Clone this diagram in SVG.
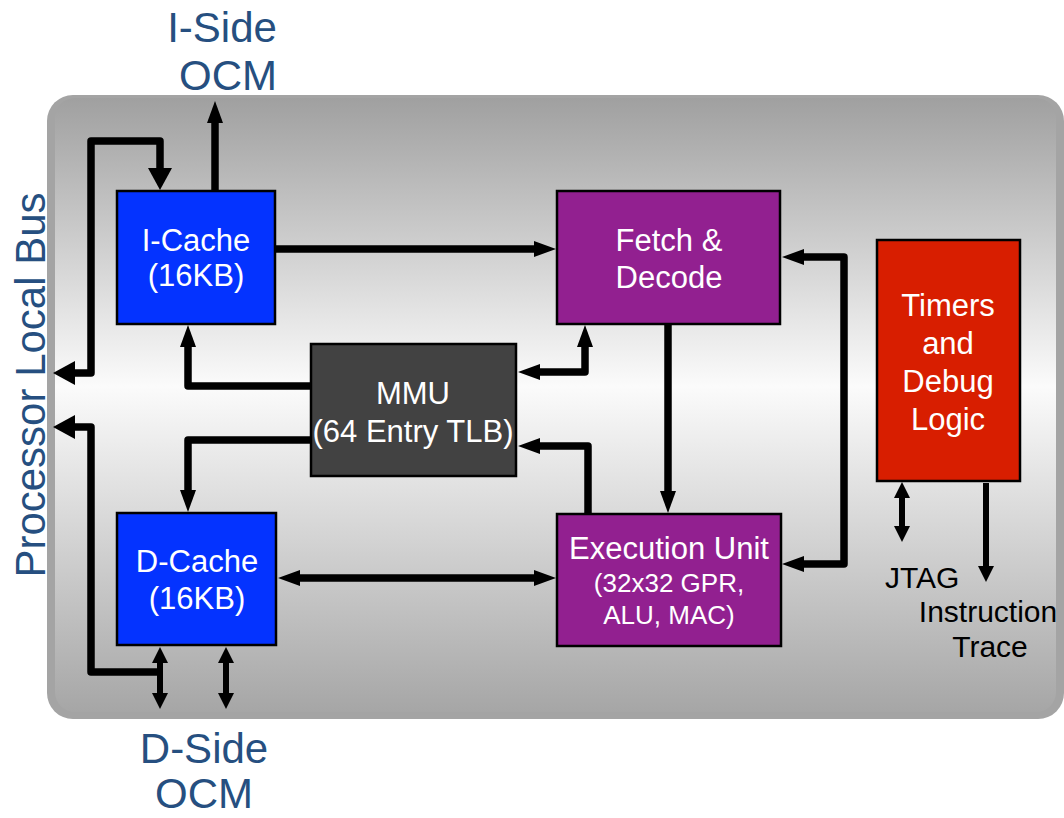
<svg xmlns="http://www.w3.org/2000/svg" width="1064" height="818" viewBox="0 0 1064 818">
<defs>
<linearGradient id="bg" x1="0" y1="0" x2="0" y2="1">
<stop offset="0" stop-color="#a0a0a0"/>
<stop offset="0.47" stop-color="#fbfbfb"/>
<stop offset="1" stop-color="#a6a6a6"/>
</linearGradient>
<marker id="ab" markerUnits="userSpaceOnUse" markerWidth="30" markerHeight="30" refX="1" refY="12" orient="auto-start-reverse" overflow="visible"><path d="M0,0 L22,12 L0,24 z" fill="#000"/></marker>
<marker id="am" markerUnits="userSpaceOnUse" markerWidth="30" markerHeight="30" refX="1" refY="8" orient="auto-start-reverse" overflow="visible"><path d="M0,0 L22,8 L0,16 z" fill="#000"/></marker>
<marker id="as" markerUnits="userSpaceOnUse" markerWidth="30" markerHeight="30" refX="1" refY="8" orient="auto-start-reverse" overflow="visible"><path d="M0,0 L16,8 L0,16 z" fill="#000"/></marker>
</defs>
<style>
.box{stroke:#000;stroke-width:2.5}
.blue{fill:#0433ff}
.purple{fill:#922090}
.gray{fill:#424242}
.red{fill:#d81e00}
.t{font-family:"Liberation Sans",Arial,sans-serif;fill:#fff;text-anchor:middle}
.ext{font-family:"Liberation Sans",Arial,sans-serif;fill:#264f80;text-anchor:middle;font-size:42px}
.lbl{font-family:"Liberation Sans",Arial,sans-serif;fill:#000;font-size:30px}
.c{fill:none;stroke:#000;stroke-width:7.5;stroke-linejoin:round}
.cs{fill:none;stroke:#000;stroke-width:6}
</style>
<g id="background">
<rect x="47" y="95" width="1017" height="624" rx="26" fill="#a4a4a4"/>
<rect x="55" y="98" width="1001" height="614" rx="20" fill="url(#bg)"/>
</g>
<g id="labels">
<text class="ext" x="222" y="42">I-Side</text>
<text class="ext" x="228" y="90">OCM</text>
<text class="ext" x="204" y="763">D-Side</text>
<text class="ext" x="204" y="808">OCM</text>
<text class="ext" transform="translate(45,385) rotate(-90)">Processor Local Bus</text>
<text class="lbl" x="885" y="588">JTAG</text>
<text class="lbl" x="988" y="622" text-anchor="middle">Instruction</text>
<text class="lbl" x="990" y="657" text-anchor="middle">Trace</text>
</g>
<g id="connectors">
<path class="c" d="M74,373 H91 V141 H160 V169" marker-start="url(#ab)" marker-end="url(#ab)"/>
<path class="c" d="M215,191 V122" marker-end="url(#am)"/>
<path class="c" d="M74,427 H91 V672 H160" marker-start="url(#ab)"/>
<path class="cs" d="M160,662 V694" marker-start="url(#as)" marker-end="url(#as)"/>
<path class="cs" d="M226,662 V694" marker-start="url(#as)" marker-end="url(#as)"/>
<path class="c" d="M276,249 H535" marker-end="url(#am)"/>
<path class="c" d="M311,386 H188 V346" marker-end="url(#am)"/>
<path class="c" d="M311,440 H188 V491" marker-end="url(#am)"/>
<path class="c" d="M539,372 H585 V346" marker-start="url(#am)" marker-end="url(#am)"/>
<path class="c" d="M588,514 V446 H539" marker-end="url(#am)"/>
<path class="c" d="M668,324 V492" marker-end="url(#am)"/>
<path class="c" d="M299,578 H535" marker-start="url(#am)" marker-end="url(#am)"/>
<path class="c" d="M803,564 H844 V257 H803" marker-start="url(#am)" marker-end="url(#am)"/>
<path class="cs" d="M902,497 V527" marker-start="url(#as)" marker-end="url(#as)"/>
<path class="cs" d="M986,483 V567" marker-end="url(#as)"/>
</g>
<g id="icache">
<rect class="box blue" x="117" y="191" width="158" height="133"/>
<text class="t" x="196" y="251" font-size="31">I-Cache</text>
<text class="t" x="196" y="286" font-size="31">(16KB)</text>
</g>
<g id="fetch">
<rect class="box purple" x="557" y="191" width="223" height="133"/>
<text class="t" x="669" y="251" font-size="31">Fetch &amp;</text>
<text class="t" x="669" y="288" font-size="31">Decode</text>
</g>
<g id="mmu">
<rect class="box gray" x="311" y="344" width="205" height="132"/>
<text class="t" x="413" y="404" font-size="31">MMU</text>
<text class="t" x="413" y="442" font-size="31">(64 Entry TLB)</text>
</g>
<g id="dcache">
<rect class="box blue" x="117" y="513" width="159" height="132"/>
<text class="t" x="197" y="572" font-size="31">D-Cache</text>
<text class="t" x="197" y="609" font-size="31">(16KB)</text>
</g>
<g id="exec">
<rect class="box purple" x="557" y="514" width="224" height="132"/>
<text class="t" x="669" y="559" font-size="31">Execution Unit</text>
<text class="t" x="669" y="592" font-size="26">(32x32 GPR,</text>
<text class="t" x="669" y="624" font-size="26">ALU, MAC)</text>
</g>
<g id="timers">
<rect class="box red" x="877" y="240" width="143" height="241"/>
<text class="t" x="948" y="316" font-size="31">Timers</text>
<text class="t" x="948" y="354" font-size="31">and</text>
<text class="t" x="948" y="392" font-size="31">Debug</text>
<text class="t" x="948" y="430" font-size="31">Logic</text>
</g>
</svg>
